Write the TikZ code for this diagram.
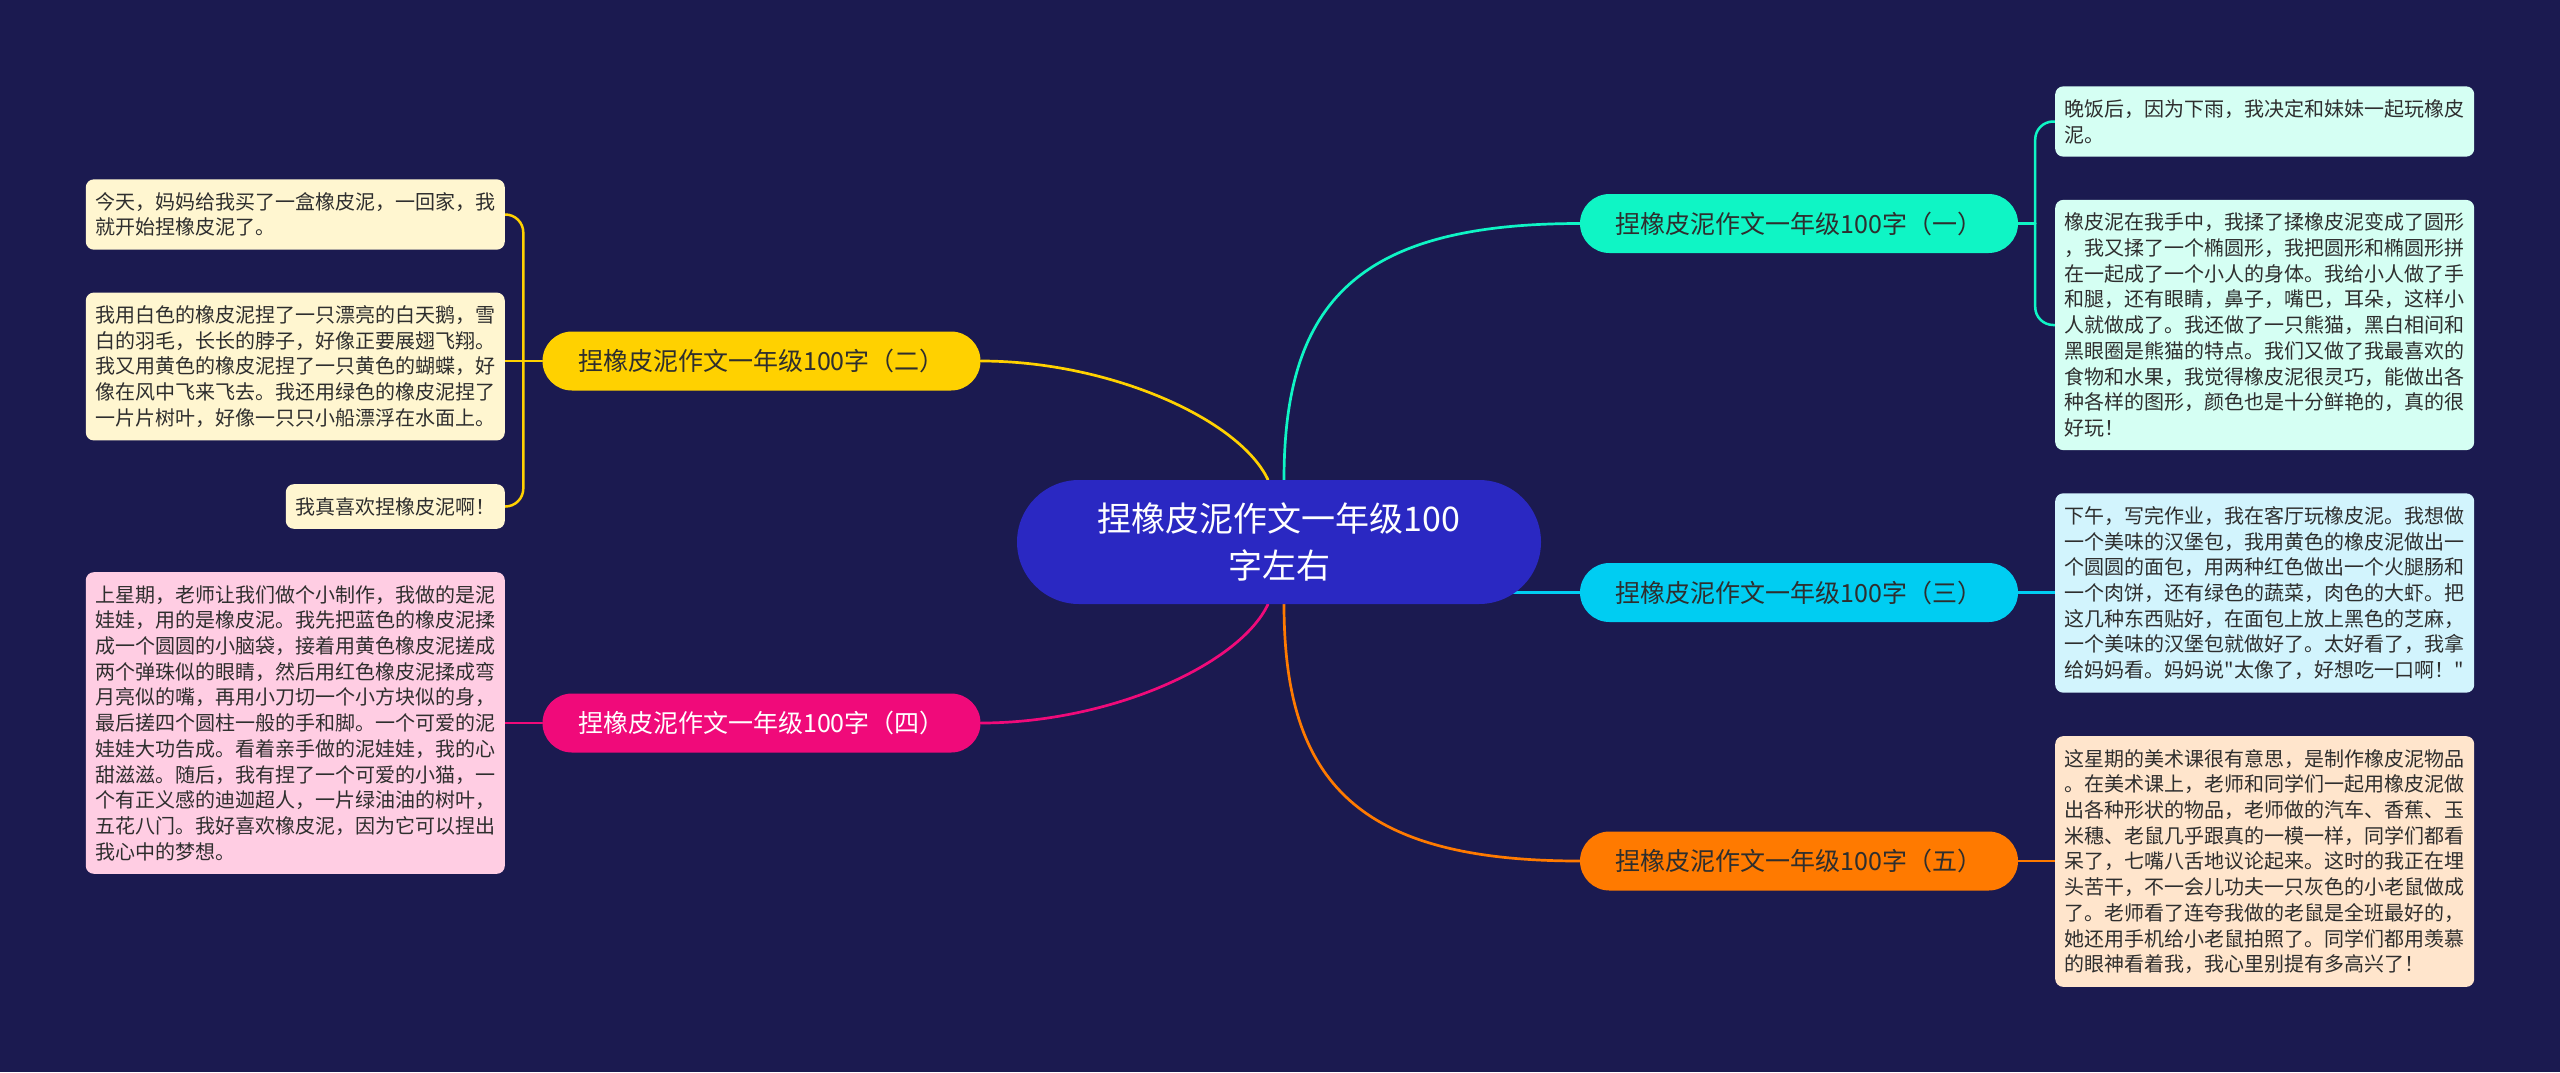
\documentclass[tikz,border=0pt]{standalone}
\usepackage{fontspec}
\newfontfamily\cjk{Noto Sans CJK SC}
\usetikzlibrary{calc}
\definecolor{bgc}{HTML}{1B1A50}
\definecolor{rootc}{HTML}{2A28C2}
\definecolor{c1}{HTML}{0FF5C5}
\definecolor{c2}{HTML}{FFD100}
\definecolor{c3}{HTML}{00CDF2}
\definecolor{c4}{HTML}{F00A7A}
\definecolor{c5}{HTML}{FF7A00}
\definecolor{f1}{HTML}{D5FFF3}
\definecolor{f2}{HTML}{FFF6D0}
\definecolor{f3}{HTML}{D2F4FD}
\definecolor{f4}{HTML}{FFCDE3}
\definecolor{f5}{HTML}{FFE5CC}
\definecolor{txt}{HTML}{2E2E2E}
\pgfdeclarelayer{bg}
\pgfsetlayers{bg,main}
\begin{document}
\begin{tikzpicture}[x=1pt,y=-1pt,
 rootbox/.style={fill=rootc, rounded corners=62pt, minimum width=524pt, minimum height=124pt, text=white, align=center, font=\cjk\fontsize{34}{47}\selectfont, inner sep=0pt},
 branch/.style={rounded corners=29.5pt, minimum width=438pt, minimum height=59pt, inner sep=0pt, font=\cjk\fontsize{25}{30}\selectfont, text=txt},
 leaf/.style={rounded corners=8pt, text width=400pt, inner xsep=9.5pt, inner ysep=13pt, align=left, font=\cjk\fontsize{20}{25.7}\selectfont, text=txt},
 leafs/.style={rounded corners=8pt, inner xsep=9.5pt, inner ysep=13pt, font=\cjk\fontsize{20}{25.7}\selectfont, text=txt},
 link/.style={line width=2.7pt, line cap=round},
 sub/.style={line width=2.5pt, line cap=round},
]
\useasboundingbox (0,0) rectangle (2560,1072);

\node[rootbox] (root) at (1279,542) {捏橡皮泥作文一年级100\\字左右};

\node[branch,fill=c1] (b1) at (1799,223.5) {捏橡皮泥作文一年级100字（一）};
\node[branch,fill=c2] (b2) at (761.5,361) {捏橡皮泥作文一年级100字（二）};
\node[branch,fill=c3] (b3) at (1799,592.5) {捏橡皮泥作文一年级100字（三）};
\node[branch,fill=c4,text=white] (b4) at (761.5,723) {捏橡皮泥作文一年级100字（四）};
\node[branch,fill=c5] (b5) at (1799,861) {捏橡皮泥作文一年级100字（五）};

\node[leaf,fill=f2,anchor=east] (l1) at (505,214.5) {今天，妈妈给我买了一盒橡皮泥，一回家，我\\就开始捏橡皮泥了。};
\node[leaf,fill=f2,anchor=east] (l2) at (505,366.5) {我用白色的橡皮泥捏了一只漂亮的白天鹅，雪\\白的羽毛，长长的脖子，好像正要展翅飞翔。\\我又用黄色的橡皮泥捏了一只黄色的蝴蝶，好\\像在风中飞来飞去。我还用绿色的橡皮泥捏了\\一片片树叶，好像一只只小船漂浮在水面上。};
\node[leafs,fill=f2,anchor=east] (l3) at (505,506.5) {我真喜欢捏橡皮泥啊！};
\node[leaf,fill=f4,anchor=east] (l4) at (505,723) {上星期，老师让我们做个小制作，我做的是泥\\娃娃，用的是橡皮泥。我先把蓝色的橡皮泥揉\\成一个圆圆的小脑袋，接着用黄色橡皮泥搓成\\两个弹珠似的眼睛，然后用红色橡皮泥揉成弯\\月亮似的嘴，再用小刀切一个小方块似的身，\\最后搓四个圆柱一般的手和脚。一个可爱的泥\\娃娃大功告成。看着亲手做的泥娃娃，我的心\\甜滋滋。随后，我有捏了一个可爱的小猫，一\\个有正义感的迪迦超人，一片绿油油的树叶，\\五花八门。我好喜欢橡皮泥，因为它可以捏出\\我心中的梦想。};

\node[leaf,fill=f1,anchor=west] (r1) at (2055,121.5) {晚饭后，因为下雨，我决定和妹妹一起玩橡皮\\泥。};
\node[leaf,fill=f1,anchor=west] (r2) at (2055,325) {橡皮泥在我手中，我揉了揉橡皮泥变成了圆形\\，我又揉了一个椭圆形，我把圆形和椭圆形拼\\在一起成了一个小人的身体。我给小人做了手\\和腿，还有眼睛，鼻子，嘴巴，耳朵，这样小\\人就做成了。我还做了一只熊猫，黑白相间和\\黑眼圈是熊猫的特点。我们又做了我最喜欢的\\食物和水果，我觉得橡皮泥很灵巧，能做出各\\种各样的图形，颜色也是十分鲜艳的，真的很\\好玩！};
\node[leaf,fill=f3,anchor=west] (r3) at (2055,593) {下午，写完作业，我在客厅玩橡皮泥。我想做\\一个美味的汉堡包，我用黄色的橡皮泥做出一\\个圆圆的面包，用两种红色做出一个火腿肠和\\一个肉饼，还有绿色的蔬菜，肉色的大虾。把\\这几种东西贴好，在面包上放上黑色的芝麻，\\一个美味的汉堡包就做好了。太好看了，我拿\\给妈妈看。妈妈说"太像了，好想吃一口啊！"};
\node[leaf,fill=f5,anchor=west] (r4) at (2055,861.5) {这星期的美术课很有意思，是制作橡皮泥物品\\。在美术课上，老师和同学们一起用橡皮泥做\\出各种形状的物品，老师做的汽车、香蕉、玉\\米穗、老鼠几乎跟真的一模一样，同学们都看\\呆了，七嘴八舌地议论起来。这时的我正在埋\\头苦干，不一会儿功夫一只灰色的小老鼠做成\\了。老师看了连夸我做的老鼠是全班最好的，\\她还用手机给小老鼠拍照了。同学们都用羡慕\\的眼神看着我，我心里别提有多高兴了！};

\begin{pgfonlayer}{bg}
\fill[bgc] (0,0) rectangle (2560,1072);
\draw[link,c1] ($(root.north)+(5,0)$) .. controls +(0,-180) and +(-220,0) .. (b1.west);
\draw[link,c5] ($(root.south)+(5,0)$) .. controls +(0,180) and +(-220,0) .. (b5.west);
\draw[link,c3] (root.center |- b3.west) -- (b3.west);
\draw[link,c2] (b2.east) .. controls +(130,0) and +(-28,-60) .. ($(root.north)+(-11,0)$);
\draw[link,c4] (b4.east) .. controls +(130,0) and +(-28,60) .. ($(root.south)+(-11,0)$);
\coordinate (j1) at ($(b1.east)+(17,0)$);
\draw[sub,c1] (b1.east) -- (j1);
\draw[sub,c1,rounded corners=18pt] (j1) |- (r1.west);
\draw[sub,c1,rounded corners=18pt] (j1) |- (r2.west);
\draw[sub,c3] (b3.east) -- (b3.east -| r3.west);
\draw[sub,c5] (b5.east) -- (b5.east -| r4.west);
\coordinate (j2) at ($(b2.west)+(-19,0)$);
\draw[sub,c2] (b2.west) -- (b2.west -| l2.east);
\draw[sub,c2,rounded corners=18pt] (j2) |- (l1.east);
\draw[sub,c2,rounded corners=18pt] (j2) |- (l3.east);
\draw[sub,c4] (b4.west) -- (b4.west -| l4.east);
\end{pgfonlayer}
\end{tikzpicture}
\end{document}
